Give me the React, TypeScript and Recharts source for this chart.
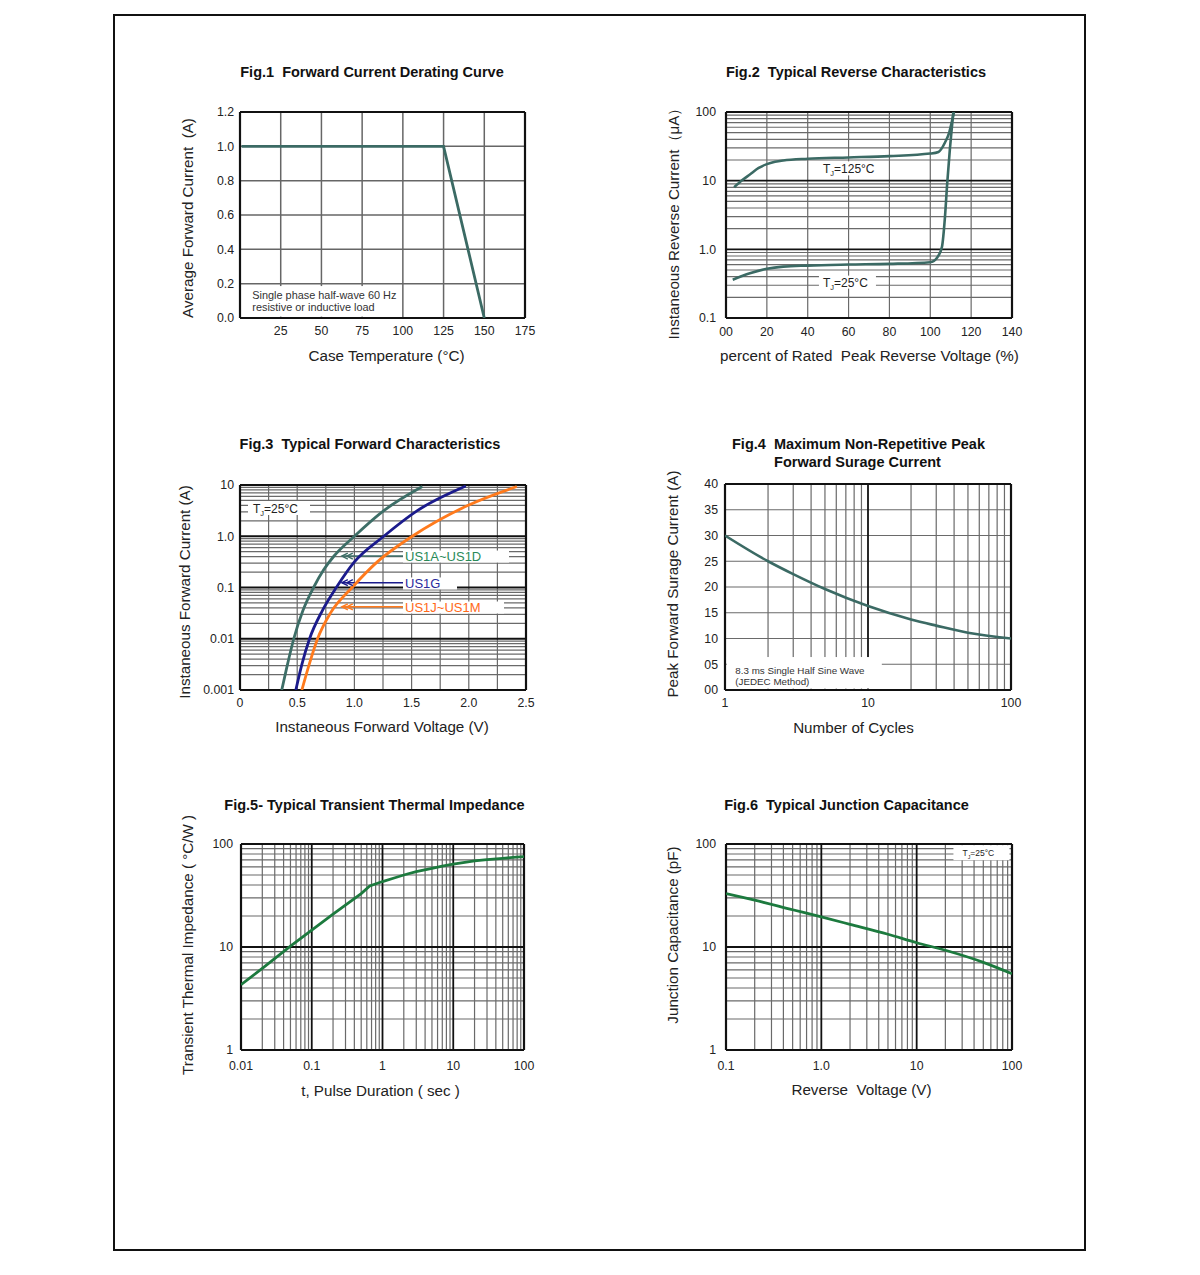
import React from 'react';
import { LineChart, Line, XAxis, YAxis, ReferenceLine, ReferenceDot } from 'recharts';

const FONT = '"Liberation Sans", Arial, Helvetica, sans-serif';

// ---------------- Fig.1 Forward Current Derating Curve ----------------
const fig1Temperature = [1, 125, 150];
const fig1Current = [1.0, 1.0, 0.0];
const fig1XTicks = [25, 50, 75, 100, 125, 150, 175];
const fig1YTicks = [0, 0.2, 0.4, 0.6, 0.8, 1.0, 1.2];

// ---------------- Fig.2 Typical Reverse Characteristics ----------------
const fig2Pct125 = [4, 8, 11.7, 16, 20, 24, 28, 40, 60, 80, 100, 104, 107.2, 109.3, 110.5, 111.6];
const fig2Cur125 = [8.0, 10.2, 12.3, 15.3, 17.4, 18.8, 19.7, 20.9, 21.8, 22.8, 24.8, 26.2, 36, 50.6, 71, 100];
const fig2Pct25 = [3.3, 11.7, 20, 28, 40, 60, 80, 100, 103.5, 105.7, 107.2, 108.3, 109.6, 110.8, 111.3];
const fig2Cur25 = [0.361, 0.447, 0.52, 0.56, 0.58, 0.6, 0.615, 0.65, 0.77, 1.08, 3.0, 9.3, 29, 71, 100];
const fig2XTicks = [0, 20, 40, 60, 80, 100, 120, 140];
const fig2YTicks = [0.1, 1, 10, 100];

// ---------------- Fig.3 Typical Forward Characteristics ----------------
const fig3VoltA = [0.365, 0.41, 0.47, 0.55, 0.643, 0.73, 0.82, 1.0, 1.257, 1.594];
const fig3CurA = [0.001, 0.00282, 0.01, 0.0355, 0.1, 0.219, 0.407, 1.0, 3.16, 9.33];
const fig3VoltG = [0.488, 0.541, 0.608, 0.72, 0.842, 1.0, 1.257, 1.55, 1.974];
const fig3CurG = [0.001, 0.00316, 0.01, 0.0355, 0.1, 0.316, 1.0, 3.16, 9.55];
const fig3VoltJ = [0.541, 0.605, 0.678, 0.79, 0.98, 1.2, 1.506, 2.0, 2.42];
const fig3CurJ = [0.001, 0.00316, 0.01, 0.0316, 0.1, 0.316, 1.0, 4.07, 9.33];
const fig3XTicks = [0, 0.5, 1.0, 1.5, 2.0, 2.5];
const fig3YTicks = [0.001, 0.01, 0.1, 1, 10];
const fig3Labels = ['US1A~US1D', 'US1G', 'US1J~US1M'];
const fig3ArrowCurrents = [0.41, 0.124, 0.042];

// ---------------- Fig.4 Maximum Non-Repetitive Peak Forward Surge ----------------
const fig4Cycles = [1, 2, 3, 5, 10, 20, 30, 50, 100];
const fig4Surge = [30, 25.0, 22.5, 19.6, 16.3, 13.7, 12.5, 11.1, 10.0];
const fig4XTicks = [1, 10, 100];
const fig4YTicks = [0, 5, 10, 15, 20, 25, 30, 35, 40];

// ---------------- Fig.5 Typical Transient Thermal Impedance ----------------
const fig5Time = [0.01, 0.02, 0.05, 0.1, 0.2, 0.5, 0.66, 1, 1.5, 2, 3, 5, 7, 10, 20, 30, 50, 70, 100];
const fig5Imp = [4.3, 6.2, 10.2, 14.6, 20.8, 33, 39.2, 43.2, 47, 50, 54, 58, 61, 63.7, 68.5, 70.5, 72.5, 74, 75.5];
const fig5XTicks = [0.01, 0.1, 1, 10, 100];
const fig5YTicks = [1, 10, 100];

// ---------------- Fig.6 Typical Junction Capacitance ----------------
const fig6Volt = [0.1, 0.2, 0.5, 1, 2, 5, 10, 20, 50, 100];
const fig6Cap = [33, 28.5, 23, 19.6, 16.6, 13.3, 11.0, 9.3, 7.1, 5.5];
const fig6XTicks = [0.1, 1, 10, 100];
const fig6YTicks = [1, 10, 100];

// ---------------- Texts ----------------
const titles = [
  { text: 'Fig.1  Forward Current Derating Curve', x: 372, y: 72 },
  { text: 'Fig.2  Typical Reverse Characteristics', x: 856, y: 72 },
  { text: 'Fig.3  Typical Forward Characteristics', x: 370, y: 444 },
  { text: 'Fig.4  Maximum Non-Repetitive Peak', x: 858.5, y: 444 },
  { text: 'Forward Surage Current', x: 857.5, y: 462 },
  { text: 'Fig.5- Typical Transient Thermal Impedance', x: 374.5, y: 805 },
  { text: 'Fig.6  Typical Junction Capacitance', x: 846.5, y: 805 },
];
const xTitles = [
  { text: 'Case Temperature (°C)', x: 386.5, y: 356 },
  { text: 'percent of Rated  Peak Reverse Voltage (%)', x: 869.5, y: 356 },
  { text: 'Instaneous Forward Voltage (V)', x: 382, y: 727 },
  { text: 'Number of Cycles', x: 853.5, y: 728 },
  { text: 't, Pulse Duration ( sec )', x: 380.5, y: 1091 },
  { text: 'Reverse  Voltage (V)', x: 861.5, y: 1090 },
];
const yTitles = [
  { text: 'Average Forward Current  (A)', x: 188, y: 218 },
  { text: 'Instaneous Reverse Current（μA）', x: 674, y: 220 },
  { text: 'Instaneous Forward Current (A)', x: 185, y: 592 },
  { text: 'Peak Forward Surage Current (A)', x: 673, y: 584 },
  { text: 'Transient Thermal Impedance ( °C/W )', x: 188, y: 945 },
  { text: 'Junction Capacitance (pF)', x: 673, y: 935 },
];

// ---------------- helpers ----------------
const PAD_L = 70, PAD_R = 20, PAD_T = 10, PAD_B = 30;
const MINOR = '#6a6a6a';
const MAJOR = '#111';
const TEAL = '#3b6a64';
const GREEN = '#1c7a3e';

const pts = (xs: number[], ys: number[]) => xs.map((x, i) => ({ x, y: ys[i] }));
const minorLog = (decades: number[]) =>
  decades.flatMap((d) => [2, 3, 4, 5, 6, 7, 8, 9].map((k) => parseFloat((k * d).toPrecision(6))));

type Series = { xs: number[]; ys: number[]; color: string; width?: number; curve?: 'linear' | 'monotone' };

type NoteLine = { text: string; dx: number; dy: number; size: number; color: string; pre?: string; sub?: string };

function noteShape(w: number, h: number, lines: NoteLine[], inset = 0) {
  return (props: any) => {
    const { cx, cy } = props;
    return (
      <g>
        <rect x={cx + inset} y={cy} width={w} height={h} fill="#fff" stroke="none" />
        {lines.map((l, i) => (
          <text key={i} x={cx + l.dx} y={cy + l.dy} fontSize={l.size} fill={l.color} fontFamily={FONT}>
            {l.sub ? (
              <>
                <tspan>{l.pre}</tspan>
                <tspan fontSize={l.size * 0.62} dy={3}>{l.sub}</tspan>
                <tspan dy={-3}>{l.text}</tspan>
              </>
            ) : (
              l.text
            )}
          </text>
        ))}
      </g>
    );
  };
}

function arrowShape(color: string) {
  return (props: any) => {
    const { cx, cy } = props;
    return (
      <g stroke={color} fill="none" strokeWidth={1.4}>
        <polyline points={`${cx + 6},${cy - 3} ${cx},${cy} ${cx + 6},${cy + 3}`} />
        <polyline points={`${cx + 11},${cy - 3} ${cx + 5},${cy} ${cx + 11},${cy + 3}`} />
      </g>
    );
  };
}

type PanelProps = {
  left: number; top: number; w: number; h: number;
  xDomain: [number, number]; yDomain: [number, number];
  xScale?: 'linear' | 'log'; yScale?: 'linear' | 'log';
  xTicks: number[]; yTicks: number[];
  xFmt: (v: number) => string; yFmt: (v: number) => string;
  xGap: number; yGap: number;
  gridXMinor?: number[]; gridXMajor?: number[]; gridYMinor?: number[]; gridYMajor?: number[];
  minorStroke?: string; minorWidth?: number;
  series: Series[];
  extras?: React.ReactNode[];
};

function Panel(p: PanelProps) {
  const tick = { fontSize: 12.3, fill: '#222', fontFamily: FONT };
  const ms = p.minorStroke ?? MINOR;
  const mw = p.minorWidth ?? 1.2;
  return (
    <div style={{ position: 'absolute', left: p.left - PAD_L, top: p.top - PAD_T }}>
      <LineChart
        width={p.w + PAD_L + PAD_R}
        height={p.h + PAD_T + PAD_B}
        margin={{ top: PAD_T, right: PAD_R, left: 0, bottom: 0 }}
      >
        <XAxis
          type="number" dataKey="x" domain={p.xDomain} scale={p.xScale ?? 'linear'} allowDataOverflow
          ticks={p.xTicks} tickFormatter={p.xFmt} interval={0} tickLine={false} axisLine={false}
          height={PAD_B} tickSize={p.xGap} tickMargin={0} tick={tick}
        />
        <YAxis
          type="number" dataKey="y" domain={p.yDomain} scale={p.yScale ?? 'linear'} allowDataOverflow
          ticks={p.yTicks} tickFormatter={p.yFmt} interval={0} tickLine={false} axisLine={false}
          width={PAD_L} tickSize={p.yGap} tickMargin={0} tick={tick}
        />
        {(p.gridXMinor ?? []).map((v) => (
          <ReferenceLine key={`xm${v}`} x={v} stroke={ms} strokeWidth={mw} />
        ))}
        {(p.gridYMinor ?? []).map((v) => (
          <ReferenceLine key={`ym${v}`} y={v} stroke={ms} strokeWidth={mw} />
        ))}
        {(p.gridXMajor ?? []).map((v) => (
          <ReferenceLine key={`xM${v}`} x={v} stroke={MAJOR} strokeWidth={1.8} />
        ))}
        {(p.gridYMajor ?? []).map((v) => (
          <ReferenceLine key={`yM${v}`} y={v} stroke={MAJOR} strokeWidth={1.8} />
        ))}
        <ReferenceLine x={p.xDomain[0]} stroke={MAJOR} strokeWidth={2.2} />
        <ReferenceLine x={p.xDomain[1]} stroke={MAJOR} strokeWidth={2.2} />
        <ReferenceLine y={p.yDomain[0]} stroke={MAJOR} strokeWidth={2.2} />
        <ReferenceLine y={p.yDomain[1]} stroke={MAJOR} strokeWidth={2.2} />
        {p.extras}
        {p.series.map((s, i) => (
          <Line
            key={`s${i}`}
            data={pts(s.xs, s.ys)}
            dataKey="y"
            type={s.curve ?? 'monotone'}
            stroke={s.color}
            strokeWidth={s.width ?? 2.6}
            dot={false}
            activeDot={false}
            isAnimationActive={false}
          />
        ))}
      </LineChart>
    </div>
  );
}

const fmtPlain = (v: number) => String(v);
const fmtOne = (v: number) => v.toFixed(1);
const fmtPad = (v: number) => String(v).padStart(2, '0');

const tjLine = (rest: string, dx: number, dy: number, size: number): NoteLine => ({
  pre: 'T', sub: 'J', text: rest, dx, dy, size, color: '#222',
});

export default function App() {
  const fig3Colors = ['#3d6e67', '#1b1b8c', '#ff7a1c'];
  const fig3TextColors = ['#2a8a58', '#2a2a9c', '#ff6a1a'];
  const fig3LabelWidths = [106, 54, 101];
  const fig3LabelAnchors = [0.526, 0.157, 0.0533];

  return (
    <div style={{ position: 'absolute', left: 0, top: 0, width: 1200, height: 1275, background: '#fff', fontFamily: FONT, color: '#222' }}>
      <div style={{ position: 'absolute', left: 113, top: 14, width: 973, height: 1237, border: '2px solid #111', boxSizing: 'border-box' }} />

      {titles.map((t, i) => (
        <div key={`t${i}`} style={{ position: 'absolute', left: t.x, top: t.y, transform: 'translate(-50%,-50%)', whiteSpace: 'pre', fontWeight: 'bold', fontSize: 14.5, lineHeight: 1, color: '#111' }}>
          {t.text}
        </div>
      ))}
      {xTitles.map((t, i) => (
        <div key={`xt${i}`} style={{ position: 'absolute', left: t.x, top: t.y, transform: 'translate(-50%,-50%)', whiteSpace: 'pre', fontSize: 15.2, lineHeight: 1, color: '#222' }}>
          {t.text}
        </div>
      ))}
      {yTitles.map((t, i) => (
        <div key={`yt${i}`} style={{ position: 'absolute', left: t.x, top: t.y, transform: 'translate(-50%,-50%) rotate(-90deg)', whiteSpace: 'pre', fontSize: 15.2, lineHeight: 1, color: '#222' }}>
          {t.text}
        </div>
      ))}

      {/* Fig.1 */}
      <Panel
        left={240} top={112} w={285} h={206}
        xDomain={[0, 175]} yDomain={[0, 1.2]}
        xTicks={fig1XTicks} yTicks={fig1YTicks} xFmt={fmtPlain} yFmt={fmtOne}
        xGap={8} yGap={6}
        gridXMinor={[25, 50, 75, 100, 125, 150]} gridYMinor={[0.2, 0.4, 0.6, 0.8, 1.0]}
        minorStroke="#666" minorWidth={1.5}
        series={[{ xs: fig1Temperature, ys: fig1Current, color: TEAL, width: 2.8, curve: 'linear' }]}
        extras={[
          <ReferenceDot key="n1" x={0.8} y={0.186} r={1}
            shape={noteShape(156, 30.5, [
              { text: 'Single phase half-wave 60 Hz', dx: 11, dy: 13, size: 10.9, color: '#333' },
              { text: 'resistive or inductive load', dx: 11, dy: 25, size: 10.9, color: '#333' },
            ], 1)} />,
        ]}
      />

      {/* Fig.2 */}
      <Panel
        left={726} top={112} w={286} h={206}
        xDomain={[0, 140]} yDomain={[0.1, 100]} yScale="log"
        xTicks={fig2XTicks} yTicks={fig2YTicks} xFmt={fmtPad} yFmt={(v) => (v === 1 ? '1.0' : String(v))}
        xGap={9} yGap={10}
        gridXMinor={[20, 40, 60, 80, 100, 120]}
        gridYMinor={minorLog([0.1, 1, 10])} gridYMajor={[1, 10]}
        series={[
          { xs: fig2Pct125, ys: fig2Cur125, color: TEAL },
          { xs: fig2Pct25, ys: fig2Cur25, color: TEAL },
        ]}
        extras={[
          <ReferenceDot key="n125" x={46} y={19.1} r={1} shape={noteShape(60, 14, [tjLine('=125°C', 3, 11.5, 12)])} />,
          <ReferenceDot key="n25" x={45.5} y={0.414} r={1} shape={noteShape(57, 13, [tjLine('=25°C', 4, 11, 12)])} />,
        ]}
      />

      {/* Fig.3 */}
      <Panel
        left={240} top={485} w={286} h={205}
        xDomain={[0, 2.5]} yDomain={[0.001, 10]} yScale="log"
        xTicks={fig3XTicks} yTicks={fig3YTicks}
        xFmt={(v) => (v === 0 ? '0' : v.toFixed(1))} yFmt={(v) => (v === 1 ? '1.0' : String(v))}
        xGap={8} yGap={6}
        gridXMinor={[0.25, 0.5, 0.75, 1.0, 1.25, 1.5, 1.75, 2.0, 2.25]}
        gridYMinor={minorLog([0.001, 0.01, 0.1, 1])} gridYMajor={[0.01, 0.1, 1]}
        series={[
          { xs: fig3VoltA, ys: fig3CurA, color: fig3Colors[0], width: 2.8 },
          { xs: fig3VoltG, ys: fig3CurG, color: fig3Colors[1], width: 2.8 },
          { xs: fig3VoltJ, ys: fig3CurJ, color: fig3Colors[2], width: 2.8 },
        ]}
        extras={[
          <ReferenceDot key="ntj" x={0.07} y={4.87} r={1} shape={noteShape(62, 14, [tjLine('=25°C', 5, 11.5, 12)])} />,
          ...fig3Labels.map((lab, i) => (
            <ReferenceLine key={`ar${i}`} segment={[{ x: 0.89, y: fig3ArrowCurrents[i] }, { x: 1.425, y: fig3ArrowCurrents[i] }]} stroke={fig3Colors[i]} strokeWidth={1.5} />
          )),
          ...fig3Labels.map((lab, i) => (
            <ReferenceDot key={`ah${i}`} x={0.89} y={fig3ArrowCurrents[i]} r={1} shape={arrowShape(fig3Colors[i])} />
          )),
          ...fig3Labels.map((lab, i) => (
            <ReferenceDot key={`lb${i}`} x={1.425} y={fig3LabelAnchors[i]} r={1}
              shape={noteShape(fig3LabelWidths[i], 12, [{ text: lab, dx: 2, dy: 10.5, size: 13, color: fig3TextColors[i] }])} />
          )),
        ]}
      />

      {/* Fig.4 */}
      <Panel
        left={725} top={484} w={286} h={206}
        xDomain={[1, 100]} yDomain={[0, 40]} xScale="log"
        xTicks={fig4XTicks} yTicks={fig4YTicks} xFmt={fmtPlain} yFmt={fmtPad}
        xGap={8} yGap={7}
        gridXMinor={minorLog([1, 10])} gridXMajor={[10]}
        gridYMinor={[5, 10, 15, 20, 25, 30, 35]}
        series={[{ xs: fig4Cycles, ys: fig4Surge, color: TEAL }]}
        extras={[
          <ReferenceDot key="n4" x={1.005} y={6.4} r={1}
            shape={noteShape(155, 31.5, [
              { text: '8.3 ms Single Half Sine Wave', dx: 10, dy: 16.5, size: 9.8, color: '#333' },
              { text: '(JEDEC Method)', dx: 10, dy: 27.5, size: 9.8, color: '#333' },
            ], 1.5)} />,
        ]}
      />

      {/* Fig.5 */}
      <Panel
        left={241} top={844} w={283} h={206}
        xDomain={[0.01, 100]} yDomain={[1, 100]} xScale="log" yScale="log"
        xTicks={fig5XTicks} yTicks={fig5YTicks} xFmt={fmtPlain} yFmt={fmtPlain}
        xGap={11} yGap={8}
        gridXMinor={minorLog([0.01, 0.1, 1, 10])} gridXMajor={[0.1, 1, 10]}
        gridYMinor={minorLog([1, 10])} gridYMajor={[10]}
        series={[{ xs: fig5Time, ys: fig5Imp, color: GREEN, width: 2.8, curve: 'linear' }]}
      />

      {/* Fig.6 */}
      <Panel
        left={726} top={844} w={286} h={206}
        xDomain={[0.1, 100]} yDomain={[1, 100]} xScale="log" yScale="log"
        xTicks={fig6XTicks} yTicks={fig6YTicks} xFmt={(v) => (v === 1 ? '1.0' : String(v))} yFmt={fmtPlain}
        xGap={11} yGap={10}
        gridXMinor={minorLog([0.1, 1, 10])} gridXMajor={[1, 10]}
        gridYMinor={minorLog([1, 10])} gridYMajor={[10]}
        series={[{ xs: fig6Volt, ys: fig6Cap, color: GREEN, width: 2.8 }]}
        extras={[
          <ReferenceDot key="n6" x={24.3} y={97.3} r={1} shape={noteShape(56, 15, [tjLine('=25°C', 9, 11, 8.5)])} />,
        ]}
      />
    </div>
  );
}
